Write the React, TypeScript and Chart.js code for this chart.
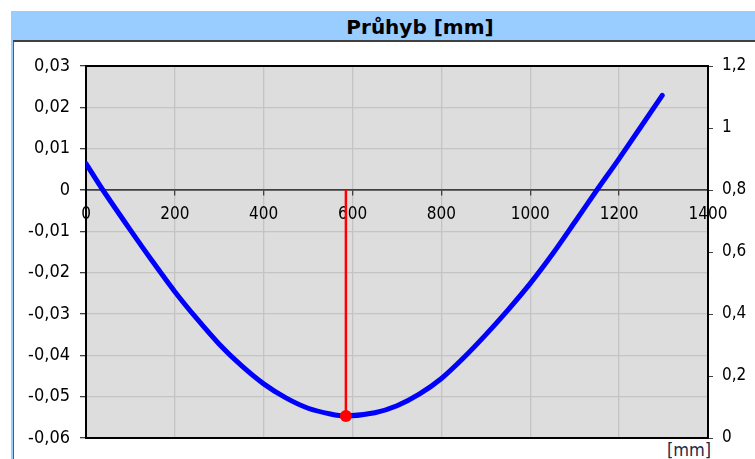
import React, { useEffect, useRef } from 'react';
import { Chart, registerables } from 'chart.js';

Chart.register(...registerables);

// Deflection curve (position along beam [mm], deflection [mm])
const deflX = [0, 38, 100, 150, 200, 250, 300, 350, 400, 450, 500, 550, 585, 650, 700, 750, 800, 850, 900, 950, 1000, 1050, 1100, 1150, 1200, 1297];
const deflY = [0.0064, 0, -0.0097, -0.0173, -0.0246, -0.0312, -0.0373, -0.0425, -0.0469, -0.0503, -0.0528, -0.0542, -0.0547, -0.0539, -0.0522, -0.0494, -0.0456, -0.0406, -0.035, -0.029, -0.0226, -0.0155, -0.0078, 0, 0.0076, 0.0229];

// Maximum deflection marker
const maxX = [585, 585];
const maxY = [0, -0.0547];

// Axis ranges
const xTicks = { min: 0, max: 1400, step: 200 };
const yTicks = { min: -0.06, max: 0.03, step: 0.01 };
const y2Ticks = { min: 0, max: 1.2, step: 0.2 };

const titleText = 'Průhyb [mm]';
const unitText = '[mm]';

const FONT = "'DejaVu Sans Condensed', 'DejaVu Sans', sans-serif";

const fmt = (v: number, digits: number) => {
  const r = Math.round(v * Math.pow(10, digits)) / Math.pow(10, digits);
  if (Math.abs(r) < 1e-12) return '0';
  return String(r).replace('.', ',');
};

const framePlugin = {
  id: 'frame',
  beforeDraw(chart: any) {
    const { ctx, chartArea: a } = chart;
    ctx.save();
    ctx.fillStyle = '#DDDDDD';
    ctx.fillRect(a.left, a.top, a.right - a.left, a.bottom - a.top);
    ctx.restore();
  },
  beforeDatasetsDraw(chart: any) {
    const { ctx, chartArea: a } = chart;
    ctx.save();
    ctx.strokeStyle = '#000';
    ctx.lineWidth = 2;
    ctx.beginPath();
    ctx.moveTo(a.left - 1, a.top);
    ctx.lineTo(a.right + 1, a.top);
    ctx.moveTo(a.left - 1, a.bottom);
    ctx.lineTo(a.right + 1, a.bottom);
    ctx.stroke();
    ctx.restore();
  },
};

export default function App() {
  const ref = useRef<HTMLCanvasElement | null>(null);

  useEffect(() => {
    if (!ref.current) return;
    const curve = deflX.map((x, i) => ({ x, y: deflY[i] }));
    const marker = maxX.map((x, i) => ({ x, y: maxY[i] }));
    const chart = new Chart(ref.current, {
      type: 'scatter',
      data: {
        datasets: [
          {
            data: marker,
            showLine: true,
            borderColor: '#FF0000',
            backgroundColor: '#FF0000',
            borderWidth: 2.5,
            pointRadius: [0, 6],
            pointBackgroundColor: '#FF0000',
            pointBorderWidth: 0,
            order: 0,
            yAxisID: 'y',
          },
          {
            data: curve,
            showLine: true,
            borderColor: '#0000FF',
            borderWidth: 5,
            borderCapStyle: 'round',
            borderJoinStyle: 'round',
            pointRadius: 0,
            tension: 0.3,
            order: 1,
            yAxisID: 'y',
          },
        ],
      },
      plugins: [framePlugin],
      options: {
        responsive: false,
        animation: false,
        events: [],
        layout: { padding: { top: 66, bottom: 21, left: 0, right: 0 } },
        plugins: { legend: { display: false }, tooltip: { enabled: false }, title: { display: false } },
        scales: {
          x: {
            type: 'linear',
            position: { y: 0 } as any,
            min: xTicks.min,
            max: xTicks.max,
            afterFit: (s: any) => { s.height = 0; },
            ticks: {
              stepSize: xTicks.step,
              autoSkip: false,
              maxRotation: 0,
              padding: 9,
              color: '#000',
              font: { family: FONT, size: 17 },
              callback: (v: any) => String(v),
            },
            grid: {
              color: '#C4C4C4',
              lineWidth: 1.3,
              tickLength: 5,
              tickColor: '#404040',
            },
            border: { display: true, color: '#404040', width: 1.5 },
          },
          y: {
            type: 'linear',
            position: 'left',
            min: yTicks.min,
            max: yTicks.max,
            afterFit: (s: any) => { s.width = 86; },
            ticks: {
              stepSize: yTicks.step,
              padding: 10,
              color: '#000',
              font: { family: FONT, size: 18 },
              callback: (v: any) => fmt(Number(v), 2),
            },
            grid: {
              color: (c: any) => (c.tick && Math.abs(c.tick.value) < 1e-9 ? '#404040' : '#C4C4C4'),
              lineWidth: (c: any) => (c.tick && Math.abs(c.tick.value) < 1e-9 ? 1.5 : 1.3),
              tickLength: 6,
              tickColor: '#404040',
            },
            border: { display: true, color: '#000', width: 2 },
          },
          y2: {
            type: 'linear',
            position: 'right',
            min: y2Ticks.min,
            max: y2Ticks.max,
            afterFit: (s: any) => { s.width = 47; },
            ticks: {
              stepSize: y2Ticks.step,
              padding: 9,
              color: '#000',
              font: { family: FONT, size: 17 },
              callback: (v: any) => fmt(Number(v), 1),
            },
            grid: {
              drawOnChartArea: false,
              tickLength: 5,
              tickColor: '#404040',
            },
            border: { display: true, color: '#000', width: 2 },
          },
        },
      },
    } as any);
    return () => chart.destroy();
  }, []);

  return (
    <div style={{ position: 'fixed', left: 0, top: 0, width: 755, height: 459, overflow: 'hidden', background: '#fff' }}>
      <div style={{ position: 'absolute', left: 11, top: 11, width: 800, height: 500, background: '#99CCFF' }} />
      <div
        style={{
          position: 'absolute',
          left: 13,
          top: 40,
          width: 800,
          height: 500,
          background: '#fff',
          borderTop: '2px solid #404040',
          borderLeft: '1.5px solid #5a5a5a',
        }}
      />
      <div
        style={{
          position: 'absolute',
          left: 220,
          width: 400,
          top: 17,
          textAlign: 'center',
          fontFamily: "'DejaVu Sans', sans-serif",
          fontWeight: 'bold',
          fontSize: 20,
          lineHeight: '20px',
          color: '#000',
        }}
      >
        {titleText}
      </div>
      <div
        style={{
          position: 'absolute',
          left: 667,
          top: 440,
          fontFamily: FONT,
          fontSize: 18,
          lineHeight: '20px',
          color: '#1c2a4a',
        }}
      >
        {unitText}
      </div>
      <canvas ref={ref} width={755} height={459} style={{ position: 'absolute', left: 0, top: 0, width: 755, height: 459 }} />
    </div>
  );
}
